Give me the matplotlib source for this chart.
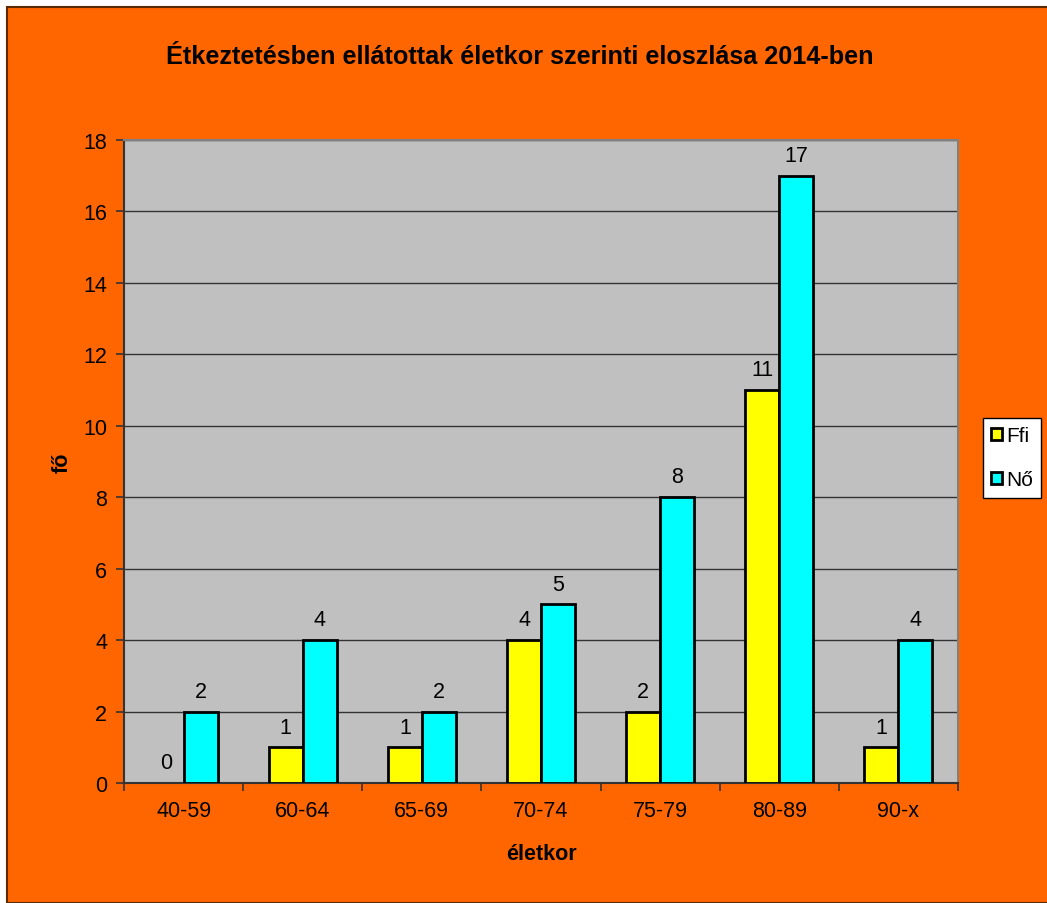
import numpy as np
import matplotlib
matplotlib.use("Agg")
import matplotlib.pyplot as plt
from matplotlib.patches import Rectangle, Patch

categories = ["40-59", "60-64", "65-69", "70-74", "75-79", "80-89", "90-x"]
ffi = [0, 1, 1, 4, 2, 11, 1]
no = [2, 4, 2, 5, 8, 17, 4]
yticks = [0, 2, 4, 6, 8, 10, 12, 14, 16, 18]

plt.rcParams["font.family"] = ["Liberation Sans", "DejaVu Sans"]

orange = "#FF6600"
yellow = "#FFFF00"
cyan = "#00FFFF"
fs = 15.5
fig = plt.figure(figsize=(10.47, 9.04), dpi=100)
fig.patch.set_facecolor("white")

# orange chart area with dark border (offset from top-left like the source)
bg = Rectangle((7 / 1047, 0), 1.0, 1 - 8 / 904, transform=fig.transFigure,
               facecolor=orange, edgecolor="#5a2a00", linewidth=1.5, zorder=-10)
fig.patches.append(bg)

ax = fig.add_axes([124 / 1047, 1 - 784 / 904, (958 - 124) / 1047, (784 - 141) / 904])
ax.set_facecolor("#C0C0C0")

x = np.arange(len(categories))
w = 0.285
b1 = ax.bar(x - w / 2, ffi, w, color=yellow, edgecolor="black", linewidth=2, zorder=3)
b2 = ax.bar(x + w / 2, no, w, color=cyan, edgecolor="black", linewidth=2, zorder=3)
for r, v in zip(b1, ffi):
    if v == 0:
        r.set_linewidth(0)

for bars, vals in ((b1, ffi), (b2, no)):
    for r, v in zip(bars, vals):
        ax.annotate(str(v), (r.get_x() + r.get_width() / 2, v), xytext=(0, 7),
                    textcoords="offset points", ha="center", va="bottom", fontsize=fs)

ax.set_xlim(-0.5, len(categories) - 0.5)
ax.set_ylim(0, 18)
ax.set_yticks(yticks)
ax.set_yticklabels([str(t) for t in yticks], fontsize=fs)
ax.set_xticks(x)
ax.set_xticklabels(categories, fontsize=fs)
ax.tick_params(axis="x", which="major", length=0, pad=12)
ax.set_xticks(np.arange(-0.5, len(categories)), minor=True)
ax.tick_params(axis="x", which="minor", length=6, color="#333333", width=1.2)
ax.tick_params(axis="y", length=6, color="#333333", width=1.2, pad=6)

ax.grid(axis="y", color="#333333", linewidth=1, zorder=0)
ax.set_axisbelow(True)
for s in ["left", "bottom"]:
    ax.spines[s].set_color("#333333")
    ax.spines[s].set_linewidth(1.5)
for s in ["top", "right"]:
    ax.spines[s].set_color("#808080")
    ax.spines[s].set_linewidth(1.5)

ax.set_xlabel("életkor", fontsize=fs, fontweight="bold", labelpad=16)
ax.set_ylabel("fő", fontsize=fs, fontweight="bold", labelpad=8)

fig.text(520 / 1047, 1 - 57 / 904, "Étkeztetésben ellátottak életkor szerinti eloszlása 2014-ben",
         ha="center", va="center", fontsize=18.2, fontweight="bold")

handles = [Patch(facecolor=yellow, edgecolor="black", linewidth=2, label="Ffi"),
           Patch(facecolor=cyan, edgecolor="black", linewidth=2, label="Nő")]
leg = ax.legend(handles=handles, loc="center left", bbox_to_anchor=(983 / 1047, 1 - 459 / 904),
                bbox_transform=fig.transFigure, frameon=True, fancybox=False,
                fontsize=15, handlelength=0.5, handleheight=0.5, handletextpad=0.2,
                labelspacing=1.2, borderpad=0.4, borderaxespad=0, framealpha=1)
leg.get_frame().set_edgecolor("black")
leg.get_frame().set_linewidth(1)
leg.get_frame().set_facecolor("white")

fig.savefig("out.png", dpi=100, facecolor=fig.get_facecolor())
